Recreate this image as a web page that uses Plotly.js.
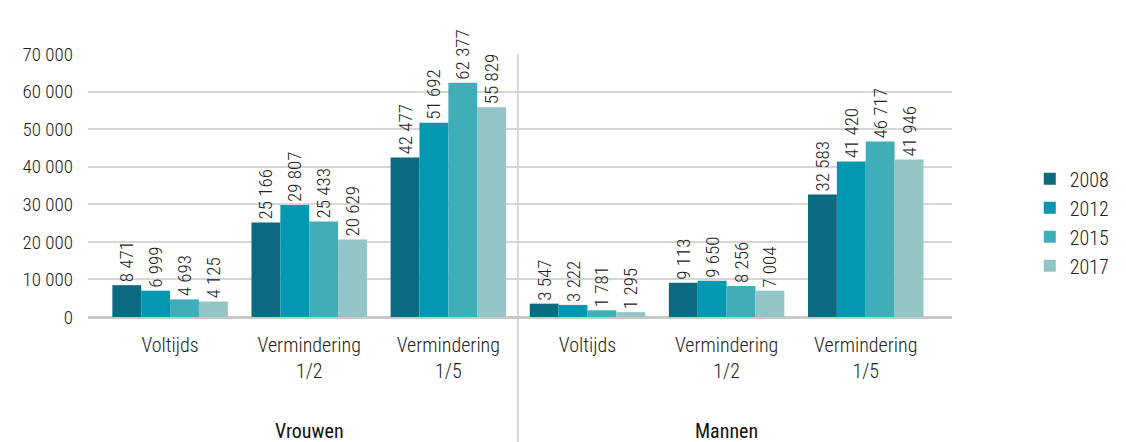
<!DOCTYPE html>
<html><head><meta charset="utf-8">
<script src="https://cdn.plot.ly/plotly-3.0.1.min.js"></script>
<style>html,body{margin:0;padding:0;background:#fff}#chart{width:1126px;height:442px}</style>
</head><body><div id="chart"></div>
<script>
const groups = ["Vrouwen", "Vrouwen", "Vrouwen", "Mannen", "Mannen", "Mannen"];
const categories = ["Voltijds", "Vermindering<br>1/2", "Vermindering<br>1/5", "Voltijds", "Vermindering<br>1/2", "Vermindering<br>1/5"];
const years = ["2008", "2012", "2015", "2017"];
const v2008 = [8471, 25166, 42477, 3547, 9113, 32583];
const v2012 = [6999, 29807, 51692, 3222, 9650, 41420];
const v2015 = [4693, 25433, 62377, 1781, 8256, 46717];
const v2017 = [4125, 20629, 55829, 1295, 7004, 41946];
const groupLabels = ["Vrouwen", "Mannen"];
const yTicks = [0, 10000, 20000, 30000, 40000, 50000, 60000, 70000];

const colors = ["#0b6a80", "#0398b1", "#3faeb8", "#93c4c6"];
const FONT = "'Roboto Condensed', 'Liberation Sans Narrow', 'Roboto', sans-serif";
const idx = categories.map((c, i) => i);
const fmt = v => String(v).replace(/\B(?=(\d{3})+(?!\d))/g, " ");

const series = [v2008, v2012, v2015, v2017];
const traces = series.map((vals, k) => ({
  type: "bar",
  name: years[k],
  x: idx,
  y: vals,
  marker: {color: colors[k], line: {width: 0}},
  text: vals.map(fmt),
  textposition: "outside",
  textangle: -90,
  constraintext: "none",
  cliponaxis: false,
  textfont: {family: FONT, size: 19, color: "#222", weight: 300},
  hoverinfo: "skip"
}));

const annotations = groupLabels.map((g, gi) => {
  const members = idx.filter(i => groups[i] === g);
  const mid = members[Math.floor(members.length / 2)];
  return {x: mid, xref: "x", y: -0.435, yref: "paper", yanchor: "middle",
    text: g, showarrow: false, font: {family: FONT, size: 20, color: "#111"}};
});

const shapes = [];
for (let i = 1; i < groups.length; i++) {
  if (groups[i] !== groups[i - 1]) {
    shapes.push({type: "line", xref: "x", yref: "paper", x0: i - 0.5, x1: i - 0.5,
      y0: -0.5, y1: 1, line: {color: "#cccccc", width: 1.5}});
  }
}

const layout = {
  width: 1126, height: 442,
  margin: {l: 88, r: 171, t: 54, b: 125},
  paper_bgcolor: "#fff", plot_bgcolor: "#fff",
  barmode: "group", bargap: 0.17, bargroupgap: 0,
  separators: ", ",
  font: {family: FONT, size: 19, color: "#222"},
  xaxis: {
    range: [-0.59, 5.62], tickvals: idx, ticktext: categories,
    showgrid: false, zeroline: false, showline: false, ticks: "",
    ticklabelstandoff: 14,
    tickfont: {family: FONT, size: 20, color: "#222", weight: 300}
  },
  yaxis: {
    range: [0, 70000], tickvals: yTicks, ticktext: yTicks.map(fmt),
    showgrid: true, gridcolor: "#d6d6d6", gridwidth: 2,
    zeroline: true, zerolinecolor: "#c8c8c8", zerolinewidth: 3,
    showline: false, ticks: "", ticklabelstandoff: 14,
    tickfont: {family: FONT, size: 19, color: "#222", weight: 300}
  },
  legend: {x: 1.09, xanchor: "left", y: 0.6, yanchor: "top",
    font: {family: FONT, size: 20, color: "#222", weight: 300}, tracegroupgap: 0, itemwidth: 30},
  showlegend: true,
  annotations: annotations,
  shapes: shapes
};

Plotly.newPlot("chart", traces, layout, {displayModeBar: false, staticPlot: true});
</script></body></html>
